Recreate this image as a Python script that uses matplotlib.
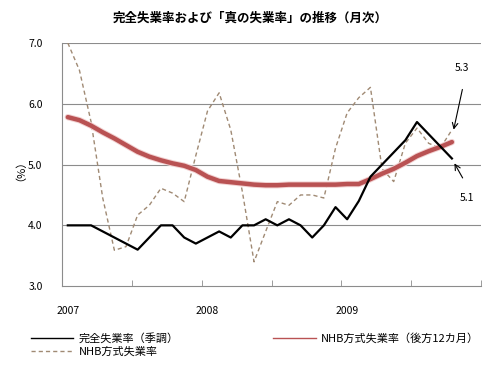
import numpy as np
import matplotlib.pyplot as plt
from matplotlib.lines import Line2D

plt.rcParams['font.family'] = ['Noto Sans CJK JP', 'DejaVu Sans']

# monthly data, Jan 2007 - Oct 2009
year_labels = ["2007", "2008", "2009"]
n_months = 36

unemp_sa = [4.0, 4.0, 4.0, 3.9, 3.8, 3.7, 3.6, 3.8, 4.0, 4.0, 3.8, 3.7,
            3.8, 3.9, 3.8, 4.0, 4.0, 4.1, 4.0, 4.1, 4.0, 3.8, 4.0, 4.3,
            4.1, 4.4, 4.8, 5.0, 5.2, 5.4, 5.7, 5.5, 5.3, 5.1]

nhb_12m = [5.78, 5.73, 5.64, 5.53, 5.43, 5.32, 5.21, 5.13, 5.07, 5.02, 4.98, 4.91,
           4.80, 4.73, 4.71, 4.69, 4.67, 4.66, 4.66, 4.67, 4.67, 4.67, 4.67, 4.67,
           4.68, 4.68, 4.76, 4.85, 4.93, 5.03, 5.14, 5.22, 5.29, 5.37]

nhb = [7.0, 6.55, 5.70, 4.45, 3.59, 3.65, 4.17, 4.33, 4.61, 4.53, 4.39, 5.15,
       5.88, 6.18, 5.57, 4.55, 3.40, 3.90, 4.39, 4.33, 4.50, 4.50, 4.45, 5.27,
       5.85, 6.10, 6.27, 4.93, 4.72, 5.35, 5.60, 5.35, 5.27, 5.57]

x = np.arange(len(unemp_sa))

fig = plt.figure(figsize=(5.0, 3.77), dpi=100)
ax = fig.add_axes([0.124, 0.241, 0.838, 0.645])

grid_c = "#8c8c8c"
for v in [4.0, 5.0, 6.0, 7.0]:
    ax.axhline(v, color=grid_c, lw=0.8, zorder=1)

ax.plot(x, nhb, color="#a08a74", lw=1.0, dashes=(3, 2.2), zorder=2)
ax.plot(x, nhb_12m, color="#f2d2d2", lw=4.6, solid_capstyle="round", zorder=3)
ax.plot(x, nhb_12m, color="#b95253", lw=3.2, solid_capstyle="round", zorder=4)
ax.plot(x, unemp_sa, color="black", lw=1.6, zorder=5)

ax.set_xlim(-0.5, n_months - 0.5)
ax.set_ylim(3.0, 7.0)
ax.set_yticks([3.0, 4.0, 5.0, 6.0, 7.0])
ax.set_yticklabels(["3.0", "4.0", "5.0", "6.0", "7.0"])
ax.tick_params(axis="y", length=0, pad=14, labelsize=7.5)

ax.set_xticks(np.arange(0, n_months, 12))
ax.set_xticklabels(year_labels)
ax.set_xticks(np.arange(-0.5, n_months, 6), minor=True)
ax.tick_params(axis="x", which="major", length=0, pad=14, labelsize=7.5)
ax.tick_params(axis="x", which="minor", direction="in", length=4, color=grid_c)

for s in ["top", "right"]:
    ax.spines[s].set_visible(False)
for s in ["left", "bottom"]:
    ax.spines[s].set_color(grid_c)
    ax.spines[s].set_linewidth(0.8)

ax.set_ylabel("（%）", fontsize=8, labelpad=6)

fig.text(0.5, 0.952, "完全失業率および「真の失業率」の推移（月次）",
         ha="center", va="center", fontsize=9, fontweight="bold")

# value callouts
ax.text(33.9, 6.59, "5.3", ha="center", va="center", fontsize=7.5)
ax.annotate("", xy=(33.1, 5.53), xytext=(33.95, 6.28),
            arrowprops=dict(arrowstyle="->", color="black", lw=0.8))
ax.text(34.3, 4.45, "5.1", ha="center", va="center", fontsize=7.5)
ax.annotate("", xy=(33.1, 5.06), xytext=(34.04, 4.74),
            arrowprops=dict(arrowstyle="->", color="black", lw=0.8))

handles = [Line2D([], [], color="black", lw=1.0),
           Line2D([], [], color="#a08a74", lw=1.0, dashes=(3, 2.2)),
           Line2D([], [], color="#b95253", lw=1.0)]
labels = ["完全失業率（季調）", "NHB方式失業率", "NHB方式失業率（後方12カ月）"]
fig.legend(handles, labels, loc="upper left", bbox_to_anchor=(0.062, 0.117),
           ncol=2, frameon=False, fontsize=8, handlelength=3.8,
           handletextpad=0.5, columnspacing=8.5, borderpad=0,
           borderaxespad=0, labelspacing=0.25)

fig.savefig("out.png", dpi=100)
